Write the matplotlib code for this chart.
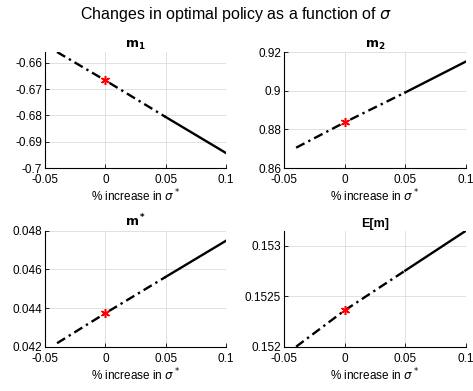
import matplotlib
matplotlib.use('Agg')
import matplotlib.pyplot as plt

plt.rcParams['font.family'] = ['Liberation Sans', 'DejaVu Sans']
plt.rcParams['mathtext.fontset'] = 'dejavusans'

# % increase in sigma, sampled at the ends, baseline and midway
x_pct = [-0.04, 0.0, 0.05, 0.1]

m1 = [-0.6559, -0.6667, -0.6806, -0.6943]
m2 = [0.8705, 0.8836, 0.8991, 0.9151]
m_star = [0.04218, 0.04373, 0.04561, 0.04748]
e_m = [0.15200, 0.15236, 0.152755, 0.15315]

panels = [
    (r'$\mathbf{m_1}$', m1, (-0.70, -0.6559), [-0.70, -0.69, -0.68, -0.67, -0.66],
     ['-0.7', '-0.69', '-0.68', '-0.67', '-0.66']),
    (r'$\mathbf{m_2}$', m2, (0.86, 0.92), [0.86, 0.88, 0.90, 0.92],
     ['0.86', '0.88', '0.9', '0.92']),
    (r'$\mathbf{m^*}$', m_star, (0.042, 0.048), [0.042, 0.044, 0.046, 0.048],
     ['0.042', '0.044', '0.046', '0.048']),
    ('E[m]', e_m, (0.152, 0.15315), [0.152, 0.1525, 0.153],
     ['0.152', '0.1525', '0.153']),
]

positions = [
    [0.0951, 0.5703, 0.3827, 0.2967],
    [0.6004, 0.5703, 0.3848, 0.2967],
    [0.0951, 0.1133, 0.3827, 0.2967],
    [0.6004, 0.1133, 0.3848, 0.2967],
]

fig = plt.figure(figsize=(4.73, 3.91), dpi=100)
fig.suptitle(r'Changes in optimal policy as a function of $\sigma$', fontsize=11.5, y=0.988)

for (title, y, ylim, yticks, ylabels), pos in zip(panels, positions):
    ax = fig.add_axes(pos)
    # sparse dash-dot part, then the dense solid stretch
    ax.plot(x_pct[:3], y[:3], color='black', linewidth=1.7,
            linestyle=(0, (4, 1.8, 1, 1.8)), zorder=3)
    ax.plot(x_pct[2:], y[2:], color='black', linewidth=1.7, zorder=3)
    ax.plot(x_pct[1], y[1], color='red', marker=(6, 2, 0), markersize=6.5,
            markeredgewidth=1.1, linestyle='none', zorder=4)

    ax.set_xlim(-0.05, 0.1)
    ax.set_ylim(*ylim)
    ax.set_xticks([-0.05, 0, 0.05, 0.1])
    ax.set_xticklabels(['-0.05', '0', '0.05', '0.1'])
    ax.set_yticks(yticks)
    ax.set_yticklabels(ylabels)
    ax.set_title(title, fontsize=9, fontweight='bold', pad=3)
    ax.set_xlabel(r'% increase in $\sigma^*$', fontsize=8.5, labelpad=1)

    ax.grid(True, color='#dcdcdc', linewidth=0.6)
    ax.set_axisbelow(True)
    for side in ('top', 'right'):
        ax.spines[side].set_visible(False)
    for side in ('left', 'bottom'):
        ax.spines[side].set_linewidth(0.8)
    ax.tick_params(direction='in', length=3, width=0.6, labelsize=8.5)
    ax.tick_params(axis='x', pad=4.5)
    ax.tick_params(axis='y', pad=2)

fig.savefig('out.png', dpi=100)
